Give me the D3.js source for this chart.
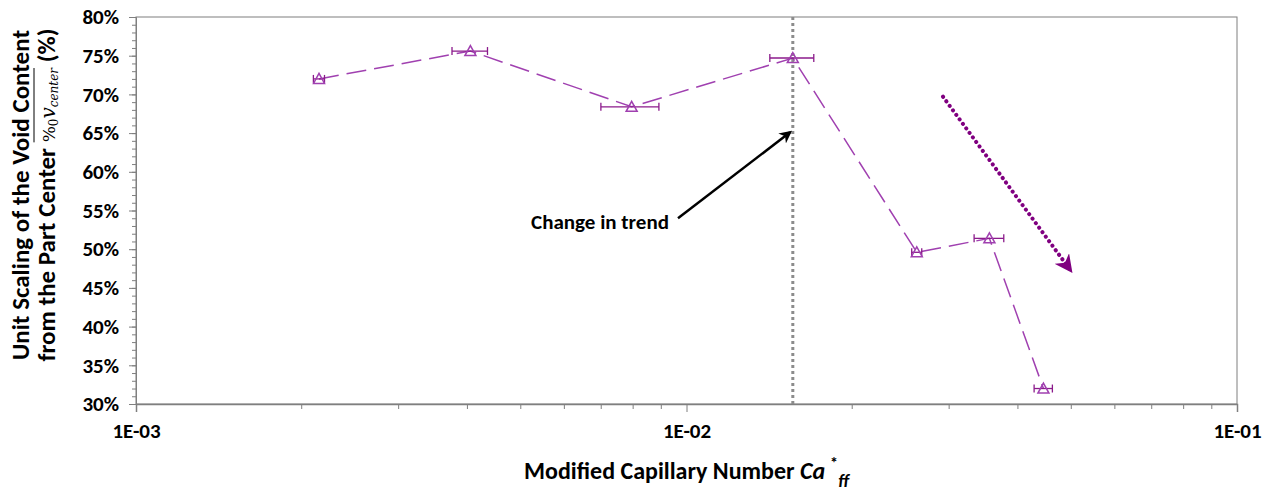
<!DOCTYPE html>
<meta charset="utf-8">
<script src="https://d3js.org/d3.v7.min.js"></script>
<style>
	body{
		margin:0;
		background:#fff;
		font-family: 'Carlito', 'Open Sans', sans-serif;
	}
	.tick text{
		font-weight:700;
		font-size:21px;
		fill:#000;
		font-family: 'Carlito', 'Open Sans', sans-serif;
	}
</style>
<div id="chart"></div>
<script>
	// measured values
	var caValues = [2.15e-3, 4.05e-3, 7.95e-3, 1.56e-2, 2.62e-2, 3.55e-2, 4.45e-2]
	var voidScaling = [72.0, 75.6, 68.4, 74.7, 49.6, 51.4, 32.0]
	var caError = [0.05e-3, 0.30e-3, 0.96e-3, 1.43e-3, 0.55e-3, 2.2e-3, 1.7e-3]
	var yTicks = [30,35,40,45,50,55,60,65,70,75,80]
	var xTickLabels = ["1E-03","1E-02","1E-01"]
	var trendChangeCa = 1.56e-2
	// annotation arrows [ca, %] start -> end
	var blackArrow = [[9.65e-3, 54.0],[1.542e-2, 65.1]]
	var purpleArrow = [[2.924e-2, 69.7],[4.98e-2, 47.3]]

	var w = 1269
	var h = 497
	var m = {left:136, right:32, top:17, bottom:93}

	var svg = d3.select("#chart").append("svg").attr("width",w).attr("height",h)

	var defs = svg.append("defs")
	defs.append("marker").attr("id","blackHead").attr("viewBox","0 0 10 10").attr("refX",8).attr("refY",5)
		.attr("markerWidth",5).attr("markerHeight",5).attr("orient","auto")
		.append("path").attr("d","M0,0 L10,5 L0,10 L3,5 Z").attr("fill","#000")
	defs.append("marker").attr("id","purpleHead").attr("viewBox","0 0 10 10").attr("refX",8).attr("refY",5)
		.attr("markerWidth",4.5).attr("markerHeight",4.5).attr("orient","auto")
		.append("path").attr("d","M0,0 L10,5 L0,10 L3,5 Z").attr("fill","#800080")

	var x = d3.scaleLog().domain([1e-3,1e-1]).range([m.left, w-m.right])
	var y = d3.scaleLinear().domain([30,80]).range([h-m.bottom, m.top])

	// plot border
	svg.append("rect").attr("x",m.left).attr("y",m.top)
		.attr("width",w-m.right-m.left).attr("height",h-m.bottom-m.top)
		.attr("fill","none").attr("stroke","#7f7f7f").attr("stroke-width",1)

	// y minor ticks
	var yMinor = d3.range(30,80.5,1)
	svg.append("g").selectAll("line").data(yMinor).join("line")
		.attr("x1",m.left-4).attr("x2",m.left)
		.attr("y1",d=>y(d)+0.5).attr("y2",d=>y(d)+0.5)
		.attr("stroke","#7f7f7f")

	var yAxis = svg.append("g").attr("transform","translate("+m.left+",0)")
		.call(d3.axisLeft(y).tickValues(yTicks).tickFormat(d=>d+"%").tickSize(7).tickPadding(10))
	yAxis.select(".domain").attr("stroke","#7f7f7f")
	yAxis.selectAll(".tick line").attr("stroke","#7f7f7f")

	// x minor ticks
	var xMinor = []
	for(var e=-3;e<-1;e++){
		for(var k=2;k<10;k++){ xMinor.push(k*Math.pow(10,e)) }
	}
	svg.append("g").selectAll("line").data(xMinor).join("line")
		.attr("x1",d=>x(d)).attr("x2",d=>x(d))
		.attr("y1",h-m.bottom).attr("y2",h-m.bottom+5)
		.attr("stroke","#7f7f7f")

	var xAxis = svg.append("g").attr("transform","translate(0,"+(h-m.bottom)+")")
		.call(d3.axisBottom(x).tickValues([1e-3,1e-2,1e-1]).tickFormat((d,i)=>xTickLabels[i]).tickSize(8).tickPadding(11))
	xAxis.select(".domain").attr("stroke","#7f7f7f").attr("stroke-width",1.5)
	xAxis.selectAll(".tick line").attr("stroke","#7f7f7f")

	// trend change vertical line
	svg.append("line")
		.attr("x1",x(trendChangeCa)).attr("x2",x(trendChangeCa))
		.attr("y1",m.top).attr("y2",h-m.bottom)
		.attr("stroke","#8c8c8c").attr("stroke-width",3).attr("stroke-dasharray","3,3")

	var points = caValues.map((c,i)=>({ca:c, v:voidScaling[i], err:caError[i]}))

	// dashed connecting line
	svg.append("path").datum(points)
		.attr("d",d3.line().x(d=>x(d.ca)).y(d=>y(d.v)))
		.attr("fill","none").attr("stroke","#a040b0").attr("stroke-width",1.5)
		.attr("stroke-dasharray","20,8")

	// error bars
	var eb = svg.append("g").attr("stroke","#8b1a8b").attr("stroke-width",1.3)
	eb.selectAll(".bar").data(points).join("line").attr("class","bar")
		.attr("x1",d=>x(d.ca-d.err)).attr("x2",d=>x(d.ca+d.err))
		.attr("y1",d=>y(d.v)).attr("y2",d=>y(d.v))
	eb.selectAll(".capL").data(points).join("line").attr("class","capL")
		.attr("x1",d=>x(d.ca-d.err)).attr("x2",d=>x(d.ca-d.err))
		.attr("y1",d=>y(d.v)-4).attr("y2",d=>y(d.v)+4)
	eb.selectAll(".capR").data(points).join("line").attr("class","capR")
		.attr("x1",d=>x(d.ca+d.err)).attr("x2",d=>x(d.ca+d.err))
		.attr("y1",d=>y(d.v)-4).attr("y2",d=>y(d.v)+4)

	// triangle markers
	svg.append("g").selectAll("path").data(points).join("path")
		.attr("transform",d=>"translate("+x(d.ca)+","+y(d.v)+")")
		.attr("d","M0,-5.5 L5.5,4.5 L-5.5,4.5 Z")
		.attr("fill","none").attr("stroke","#a040b0").attr("stroke-width",1.5)

	// black annotation arrow
	svg.append("line")
		.attr("x1",x(blackArrow[0][0])).attr("y1",y(blackArrow[0][1]))
		.attr("x2",x(blackArrow[1][0])).attr("y2",y(blackArrow[1][1]))
		.attr("stroke","#000").attr("stroke-width",2.5).attr("marker-end","url(#blackHead)")
	svg.append("text").text("Change in trend")
		.attr("x",x(blackArrow[0][0])-9).attr("y",y(blackArrow[0][1])+11)
		.attr("text-anchor","end").attr("font-weight",700).attr("font-size","21px")

	// purple dotted arrow
	svg.append("line")
		.attr("x1",x(purpleArrow[0][0])).attr("y1",y(purpleArrow[0][1]))
		.attr("x2",x(purpleArrow[1][0])).attr("y2",y(purpleArrow[1][1]))
		.attr("stroke","#800080").attr("stroke-width",4).attr("stroke-linecap","round")
		.attr("stroke-dasharray","0.1,5.5").attr("marker-end","url(#purpleHead)")

	// x axis title
	var xt = svg.append("text").attr("x",(m.left+w-m.right)/2).attr("y",479)
		.attr("text-anchor","middle").attr("font-weight",700).attr("font-size","24px")
	xt.append("tspan").text("Modified Capillary Number ")
	xt.append("tspan").text("Ca").attr("font-style","italic")
	xt.append("tspan").text("*").attr("dy",-11).attr("dx",5).attr("font-size","16px")
	xt.append("tspan").text("ff").attr("dy",19).attr("font-style","italic").attr("font-size","18px")

	// y axis title
	var yt = svg.append("g").attr("transform","translate(29,195) rotate(-90)")
	yt.append("text").text("Unit Scaling of the Void Content")
		.attr("text-anchor","middle").attr("font-weight",700).attr("font-size","25px")
	var yt2 = yt.append("text").attr("y",26).attr("text-anchor","middle").attr("font-size","25px")
	yt2.append("tspan").text("from the Part Center ").attr("font-weight",700)
	yt2.append("tspan").text("%").attr("font-family","DejaVu Serif, serif").attr("font-size","17px")
	yt2.append("tspan").text("0").attr("font-family","DejaVu Serif, serif").attr("font-size","12px").attr("dy",3)
	yt2.append("tspan").text("v").attr("font-family","DejaVu Serif, serif").attr("font-style","italic").attr("font-size","20px").attr("dy",-3)
	yt2.append("tspan").text("center").attr("font-family","DejaVu Serif, serif").attr("font-style","italic").attr("font-size","12px").attr("dy",3)
	yt2.append("tspan").text(" (%)").attr("font-weight",700).attr("dy",-3)

	// overline over the void symbol
	var nodes = yt2.selectAll("tspan").nodes()
	var s = nodes[1].getStartPositionOfChar(0)
	var last = nodes[4]
	var en = last.getEndPositionOfChar(last.getNumberOfChars()-1)
	yt.append("line").attr("x1",s.x).attr("x2",en.x).attr("y1",5).attr("y2",5)
		.attr("stroke","#000").attr("stroke-width",1)
</script>
